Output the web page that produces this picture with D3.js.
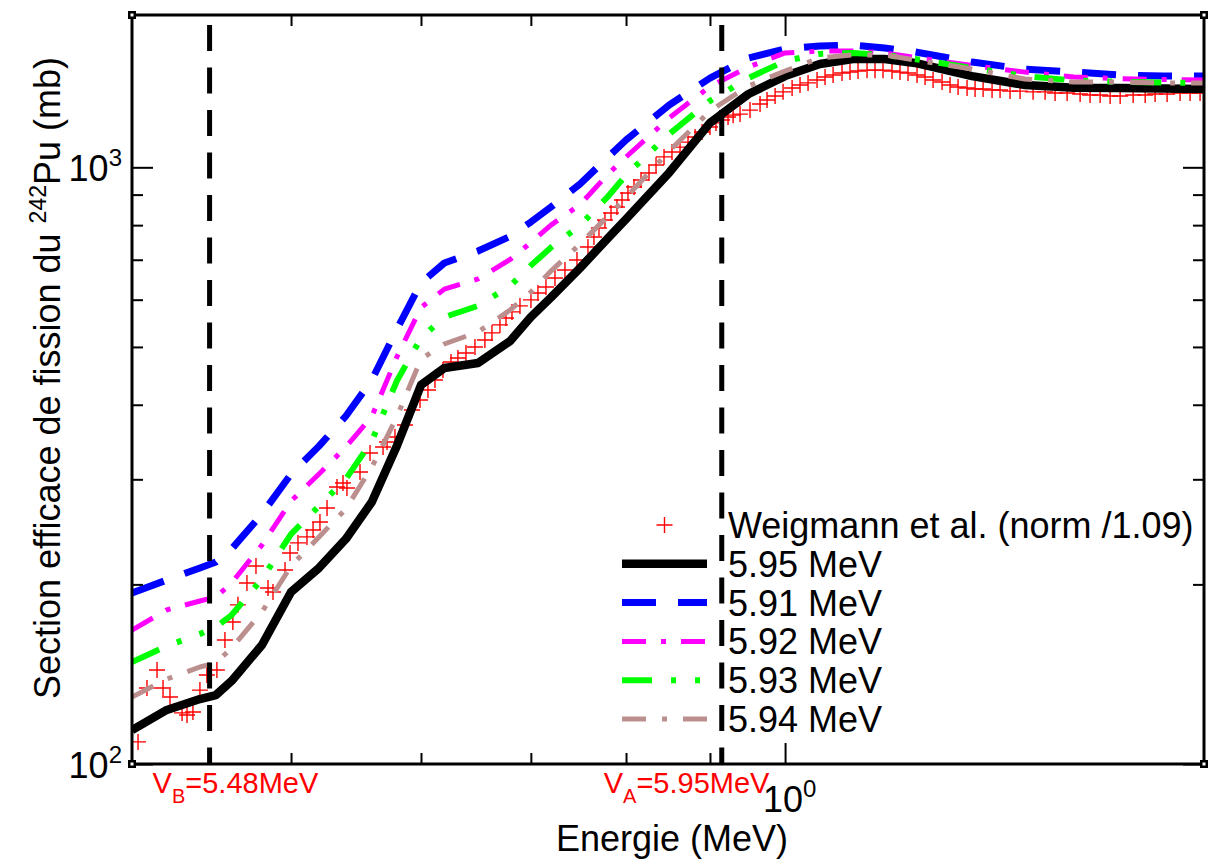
<!DOCTYPE html>
<html><head><meta charset="utf-8">
<script src="https://cdn.jsdelivr.net/npm/d3@7"></script>
<style>
body{margin:0;background:#fff;}
svg{display:block;font-family:"Liberation Sans",Arial,Helvetica,sans-serif;}
</style>
</head><body>
<svg id="chart" width="1213" height="867"></svg>
<script>
// ---------- DATA ----------
const energies = [0.40,0.42,0.44,0.45,0.46,0.48,0.50,0.52,0.54,0.56,0.58,0.60,0.62,0.65,0.68,0.70,0.72,0.75,0.78,0.80,0.85,0.90,0.95,1.00,1.05,1.10,1.15,1.20,1.30,1.40,1.50,1.60,1.70,1.80];
const sig595 = [114.0,123.2,128.5,130.5,137.8,158.3,194.2,213.1,238.3,274.9,341.2,431.6,460.9,469.9,511.6,561.2,605,678,761,819,980,1187,1327,1422,1490,1519,1519,1496,1422,1374,1360,1358,1355,1353];
const sig591 = [193.4,203.4,213.1,218.1,229.3,262.4,306.2,341,383.0,440.1,535,640,691.3,724,766,809.6,858.0,937.6,1040,1111,1272,1411,1525,1579,1597,1603,1585,1561,1501,1461,1444,1428,1422,1422];
const sig592 = [167.7,181.2,187.6,190.5,201.1,232.8,275.9,306.2,339.9,382.2,481,582,625,650,700.7,748,800,866,974,1040.6,1210,1366,1473,1555,1566,1566,1555,1528,1481,1444,1417,1408,1403,1401];
const sig593 = [148.2,157.7,165.2,169.7,177.7,204.2,242.9,270.6,300.4,347.8,438.4,517.5,561,586,632.6,684.6,734,799,893.4,970.7,1137,1292,1411,1507,1549,1555,1543,1519,1467,1422,1398,1391,1387,1385];
const sig594 = [129.5,138.8,145.4,147.7,156.5,179.8,214.7,240.2,267.6,314.6,381.6,477,505.7,529.7,576.6,618,670,743.8,828.7,890,1065,1243,1369,1450,1525,1543,1543,1513,1461,1406,1390,1390,1385,1385];

const expE = [0.4034,0.4085,0.4143,0.4178,0.4219,0.4291,0.4321,0.4357,0.4400,0.4443,
0.4506,0.4557,0.4608,0.4641,0.4700,0.4760,0.4841,0.4875,0.4958,0.4993,
0.5049,0.5113,0.5157,0.5207,0.5259,0.5333,0.5378,0.5408,0.5508,0.5586,
0.5689,0.5721,0.5785,0.5867,0.5925,0.5992,0.6059,0.6119,0.6188,0.6258,
0.6319,0.6391,0.6472,0.6563,0.6628,0.6703,0.6760,0.6817,0.6894,0.7001,
0.7070,0.7150,0.7241,0.7343,0.7468,0.7584,0.7648,0.7702,0.7767,0.7833,
0.7899,0.7955,0.8022,0.8090,0.8170,0.8262,0.8344,0.8438,0.8533,0.8630,
0.8727,0.8814,0.8901,0.9000,0.9076,0.9154,0.9231,0.9297,0.9388,0.9520,
0.9655,0.9750,0.9861,0.9972,1.0099,1.0212,1.0328,1.0459,1.0577,1.0697,
1.0832,1.0954,1.1078,1.1219,1.1345,1.1473,1.1619,1.1750,1.1883,1.2034,
1.2170,1.2308,1.2464,1.2605,1.2747,1.2909,1.3055,1.3203,1.3370,1.3521,
1.3712,1.3906,1.4162,1.4403,1.4606,1.4855,1.5128,1.5341,1.5559,1.5779,
1.6002,1.6297,1.6574,1.6806,1.7092,1.7406,1.7652,1.7901];
const expSig = [108.9,134.1,143.7,134.1,129.5,121.8,120.8,122.2,133.0,141.0,
143.7,161.4,173.0,184.8,201.1,214.7,197.2,194.2,211.4,225.8,
234.7,240.2,246.7,254.4,268.5,291.2,295.8,290.1,308.6,332.0,
339.9,346.5,353.2,369.9,392.0,407.4,423.4,440.1,457.4,471.7,
479.0,488.4,499.8,513.6,527.8,544.4,559.2,572.4,585.8,599.5,
615.8,630.2,652.5,672.8,699.3,735.2,764.1,791.1,815.9,838.2,
858.0,881.4,905.5,926.8,952.1,978.1,1009,1041,1061,1081,
1102,1124,1146,1168,1187,1200,1214,1223,1228,1247,
1277,1297,1317,1338,1358,1374,1385,1401,1417,1428,
1439,1444,1450,1455,1455,1455,1450,1444,1439,1428,
1417,1401,1390,1374,1363,1358,1353,1353,1348,1348,
1342,1342,1338,1338,1332,1332,1327,1322,1322,1317,
1317,1322,1322,1327,1327,1332,1332,1332];

const seriesNames = ["5.95 MeV","5.91 MeV","5.92 MeV","5.93 MeV","5.94 MeV"];
const expName = "Weigmann et al. (norm /1.09)";
const xMinorTicks = [0.5,0.6,0.7,0.8,0.9];
const xMajorTicks = [1];
const yMinorTicks = [200,300,400,500,600,700,800,900];
const yMajorTicks = [100,1000];
const yMajorLabels = [{base:"10",exp:"2"},{base:"10",exp:"3"}];
const xMajorLabels = [{base:"10",exp:"0"}];
const barrierE = [0.446, 0.915];
const barrierLabels = [{v:"V",sub:"B",rest:"=5.48MeV"},{v:"V",sub:"A",rest:"=5.95MeV"}];

// ---------- LAYOUT ----------
const L=132,R=1204,T=15,B=764;
const svg = d3.select("#chart");
const x = d3.scaleLog().domain([0.4,1.8]).range([L,R]);
const y = d3.scaleLog().domain([100,1800]).range([B,T]);

const styles = [
  {color:"#000000", w:8.5, dash:null},
  {color:"#0000ff", w:7, dash:"34,22"},
  {color:"#ff00ff", w:5, dash:"24,15,5,15"},
  {color:"#00ff00", w:6, dash:"30,19,5,19,5,19"},
  {color:"#bc8f8f", w:5, dash:"24,16,5,16"}
];
const allSeries = [sig595,sig591,sig592,sig593,sig594];

svg.append("defs").append("clipPath").attr("id","plotclip")
  .append("rect").attr("x",L).attr("y",T).attr("width",R-L).attr("height",B-T);

const plot = svg.append("g").attr("clip-path","url(#plotclip)");

// experimental crosses
const crossPath = "M-8,0H8M0,-8V8";
plot.append("g").selectAll("path").data(expE.map((e,i)=>[e,expSig[i]])).join("path")
  .attr("d",crossPath)
  .attr("transform",d=>`translate(${x(d[0])},${y(d[1])})`)
  .attr("stroke","#ff0000").attr("stroke-width",1.4).attr("fill","none");

// model curves
const line = d3.line().x(d=>x(d[0])).y(d=>y(d[1])).curve(d3.curveLinear);
allSeries.forEach((s,k)=>{
  const p = plot.append("path").datum(energies.map((e,i)=>[e,s[i]]))
    .attr("d",line).attr("fill","none")
    .attr("stroke",styles[k].color).attr("stroke-width",styles[k].w)
    .attr("stroke-linejoin","round");
  if(styles[k].dash) p.attr("stroke-dasharray",styles[k].dash);
});

// barrier vertical dashed lines
plot.append("g").selectAll("line").data(barrierE).join("line")
  .attr("x1",d=>x(d)).attr("x2",d=>x(d)).attr("y1",T).attr("y2",B)
  .attr("stroke","#000").attr("stroke-width",5)
  .attr("stroke-dasharray","26,16.5").attr("stroke-dashoffset",32.5);

// ---------- AXES (inward ticks) ----------
function styleAxis(g){ g.select(".domain").remove(); g.selectAll(".tick line").attr("stroke","#000").attr("stroke-width",2); g.selectAll("text").remove(); }
svg.append("g").attr("transform",`translate(0,${B})`).call(d3.axisBottom(x).tickValues(xMinorTicks).tickSize(-11).tickFormat("")).call(styleAxis);
svg.append("g").attr("transform",`translate(0,${B})`).call(d3.axisBottom(x).tickValues(xMajorTicks).tickSize(-21).tickFormat("")).call(styleAxis);
svg.append("g").attr("transform",`translate(0,${T})`).call(d3.axisTop(x).tickValues(xMinorTicks).tickSize(-11).tickFormat("")).call(styleAxis);
svg.append("g").attr("transform",`translate(0,${T})`).call(d3.axisTop(x).tickValues(xMajorTicks).tickSize(-21).tickFormat("")).call(styleAxis);
svg.append("g").attr("transform",`translate(${L},0)`).call(d3.axisLeft(y).tickValues(yMinorTicks).tickSize(-11).tickFormat("")).call(styleAxis);
svg.append("g").attr("transform",`translate(${L},0)`).call(d3.axisLeft(y).tickValues(yMajorTicks).tickSize(-21).tickFormat("")).call(styleAxis);
svg.append("g").attr("transform",`translate(${R},0)`).call(d3.axisRight(y).tickValues(yMinorTicks).tickSize(-11).tickFormat("")).call(styleAxis);
svg.append("g").attr("transform",`translate(${R},0)`).call(d3.axisRight(y).tickValues(yMajorTicks).tickSize(-21).tickFormat("")).call(styleAxis);

// frame
svg.append("rect").attr("x",L).attr("y",T).attr("width",R-L).attr("height",B-T)
  .attr("fill","none").attr("stroke","#000").attr("stroke-width",3);
// corner markers
[[L,T],[R,T],[L,B],[R,B]].forEach(c=>{
  svg.append("rect").attr("x",c[0]-4).attr("y",c[1]-4).attr("width",8).attr("height",8).attr("fill","#000");
  svg.append("rect").attr("x",c[0]-1.5).attr("y",c[1]-1.5).attr("width",3).attr("height",3).attr("fill","#fff");
});

// tick labels
function powLabel(px,py,lab,anchor){
  const t = svg.append("text").attr("x",px).attr("y",py).attr("text-anchor",anchor)
    .attr("font-size",36).attr("fill","#000");
  t.append("tspan").text(lab.base);
  t.append("tspan").attr("font-size",24).attr("dy",-15).text(lab.exp);
}
yMajorTicks.forEach((v,i)=>powLabel(L-10,y(v)+14,yMajorLabels[i],"end"));
xMajorTicks.forEach((v,i)=>powLabel(x(v)-22,B+48,xMajorLabels[i],"start"));

// axis titles
svg.append("text").attr("x",672).attr("y",851).attr("text-anchor","middle")
  .attr("font-size",36).attr("fill","#000").text("Energie (MeV)");
const yt = svg.append("text").attr("transform","translate(60,378) rotate(-90)")
  .attr("text-anchor","middle").attr("font-size",36).attr("fill","#000");
yt.append("tspan").text("Section efficace de fission du ");
yt.append("tspan").attr("font-size",23).attr("dy",-14).text("242");
yt.append("tspan").attr("dy",14).text("Pu (mb)");

// barrier labels
const labOffsets = [-57,-118];
barrierE.forEach((e,i)=>{
  const t = svg.append("text").attr("x",x(e)+labOffsets[i]).attr("y",793)
    .attr("font-size",29).attr("fill","#ff0000");
  t.append("tspan").text(barrierLabels[i].v);
  t.append("tspan").attr("font-size",20).attr("dy",10).text(barrierLabels[i].sub);
  t.append("tspan").attr("dy",-10).text(barrierLabels[i].rest);
});

// ---------- LEGEND ----------
const lg = svg.append("g");
const lx0=622, lx1=707, ltx=728, ly0=525, ldy=38.8;
lg.append("path").attr("d",crossPath).attr("transform",`translate(${(lx0+lx1)/2},${ly0})`)
  .attr("stroke","#ff0000").attr("stroke-width",1.4);
lg.append("text").attr("x",ltx).attr("y",ly0+13).attr("font-size",36).text(expName);
seriesNames.forEach((n,k)=>{
  const yy = ly0 + ldy*(k+1);
  const l = lg.append("line").attr("x1",lx0).attr("x2",lx1).attr("y1",yy).attr("y2",yy)
    .attr("stroke",styles[k].color).attr("stroke-width",styles[k].w);
  if(styles[k].dash) l.attr("stroke-dasharray",styles[k].dash);
  lg.append("text").attr("x",ltx).attr("y",yy+13).attr("font-size",36).text(n);
});
</script>
</body></html>
